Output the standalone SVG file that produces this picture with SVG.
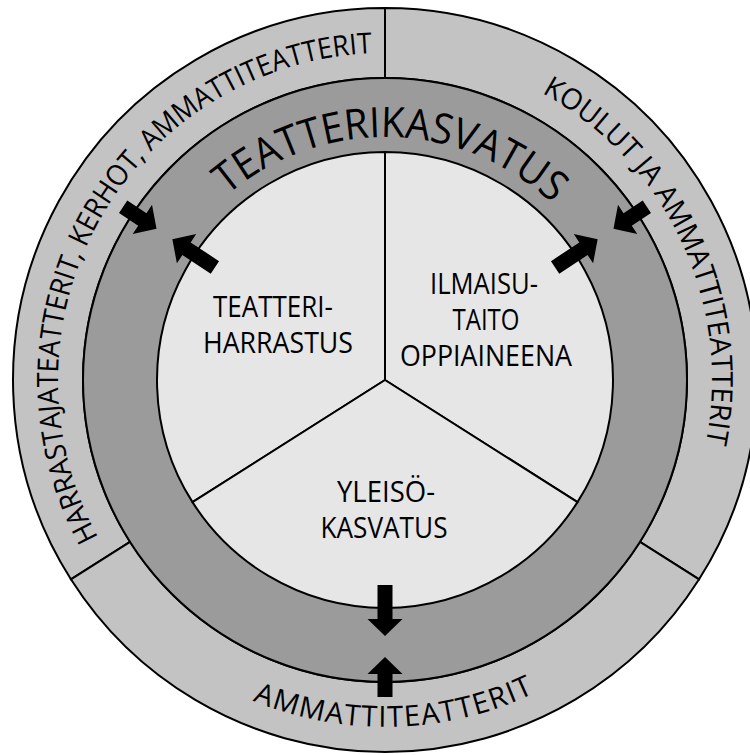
<svg xmlns="http://www.w3.org/2000/svg" xmlns:xlink="http://www.w3.org/1999/xlink" width="750" height="755" viewBox="0 0 750 755">
<style>
  .ring-outer { fill: #c3c3c3; stroke: #000; stroke-width: 2; }
  .ring-mid { fill: #9b9b9b; stroke: #000; stroke-width: 2; }
  .sector { fill: #e6e6e6; stroke: #000; stroke-width: 2; stroke-linejoin: round; }
  .lbl { font-family: "Open Sans", "Noto Sans", "DejaVu Sans", sans-serif; fill: #000; }
  .inner { font-size: 29px; text-anchor: middle; }
  .arc { font-size: 29px; }
  .big { font-size: 42px; }
  .arrow { fill: #000; }
</style>
<defs>
  <path id="pTop243" d="M 142 380 A 243 243 0 0 1 628 380"/>
  <path id="pTop327" d="M 58 380 A 327 327 0 0 1 712 380"/>
  <path id="pBot347" d="M 38 380 A 347 347 0 0 0 732 380"/>
  <polygon id="arrOut" points="0,0 -17,-17.5 -17,-7.5 -51,-7.5 -51,7.5 -17,7.5 -17,17.5"/>
  <polygon id="arrIn" points="0,0 17,-17.5 17,-7.5 40,-7.5 40,7.5 17,7.5 17,17.5"/>
</defs>
<rect width="750" height="755" fill="#fff"/>

<g id="outer-harrastajateatterit">
  <path class="ring-outer" d="M 70.92 579.32 A 372 372 0 0 1 385 8 L 385 78 A 302 302 0 0 0 130.02 541.81 Z"/>
  <text class="lbl arc" transform="rotate(-60.5 385 380)"><textPath xlink:href="#pTop327" href="#pTop327" startOffset="50%" text-anchor="middle" textLength="665" lengthAdjust="spacingAndGlyphs">HARRASTAJATEATTERIT, KERHOT, AMMATTITEATTERIT</textPath></text>
</g>
<g id="outer-koulut">
  <path class="ring-outer" d="M 385 8 A 372 372 0 0 1 699.08 579.32 L 639.98 541.81 A 302 302 0 0 0 385 78 Z"/>
  <text class="lbl arc" transform="rotate(64.9 385 380)"><textPath xlink:href="#pTop327" href="#pTop327" startOffset="50%" text-anchor="middle" textLength="414" lengthAdjust="spacingAndGlyphs">KOULUT JA AMMATTITEATTERIT</textPath></text>
</g>
<g id="outer-ammattiteatterit">
  <path class="ring-outer" d="M 699.08 579.32 A 372 372 0 0 1 70.92 579.32 L 130.02 541.81 A 302 302 0 0 0 639.98 541.81 Z"/>
  <text class="lbl arc" transform="rotate(-1.5 385 380)"><textPath xlink:href="#pBot347" href="#pBot347" startOffset="50%" text-anchor="middle" textLength="290">AMMATTITEATTERIT</textPath></text>
</g>

<g id="teatterikasvatus">
  <circle class="ring-mid" cx="385" cy="380" r="302"/>
  <text class="lbl big" transform="rotate(1.5 385 380)"><textPath xlink:href="#pTop243" href="#pTop243" startOffset="50%" text-anchor="middle" textLength="356" lengthAdjust="spacingAndGlyphs">TEATTERIKASVATUS</textPath></text>
</g>

<g id="teatteriharrastus">
  <path class="sector" d="M 385 380 L 192.5 502.16 A 228 228 0 0 1 385 152 Z"/>
  <text class="lbl inner" x="273" y="317" textLength="120" lengthAdjust="spacingAndGlyphs">TEATTERI-</text>
  <text class="lbl inner" x="278" y="353" textLength="150" lengthAdjust="spacingAndGlyphs">HARRASTUS</text>
</g>
<g id="ilmaisutaito">
  <path class="sector" d="M 385 380 L 385 152 A 228 228 0 0 1 577.5 502.16 Z"/>
  <text class="lbl inner" x="484" y="294" textLength="108" lengthAdjust="spacingAndGlyphs">ILMAISU-</text>
  <text class="lbl inner" x="486" y="330" textLength="67" lengthAdjust="spacingAndGlyphs">TAITO</text>
  <text class="lbl inner" x="486" y="366" textLength="172" lengthAdjust="spacingAndGlyphs">OPPIAINEENA</text>
</g>
<g id="yleisokasvatus">
  <path class="sector" d="M 385 380 L 577.5 502.16 A 228 228 0 0 1 192.5 502.16 Z"/>
  <text class="lbl inner" x="386" y="502" textLength="98" lengthAdjust="spacingAndGlyphs">YLEISÖ-</text>
  <text class="lbl inner" x="384" y="538" textLength="127" lengthAdjust="spacingAndGlyphs">KASVATUS</text>
</g>

<g id="connectors" class="arrow">
  <use xlink:href="#arrOut" href="#arrOut" transform="translate(385 380) rotate(213.5) translate(255 0)"/>
  <use xlink:href="#arrOut" href="#arrOut" transform="translate(385 380) rotate(326.5) translate(255 0)"/>
  <use xlink:href="#arrOut" href="#arrOut" transform="translate(385 380) rotate(90) translate(256 0)"/>
  <use xlink:href="#arrIn" href="#arrIn" transform="translate(385 380) rotate(213.5) translate(274 0)"/>
  <use xlink:href="#arrIn" href="#arrIn" transform="translate(385 380) rotate(326.5) translate(274 0)"/>
  <use xlink:href="#arrIn" href="#arrIn" transform="translate(385 380) rotate(90) translate(277 0)"/>
</g>
</svg>
